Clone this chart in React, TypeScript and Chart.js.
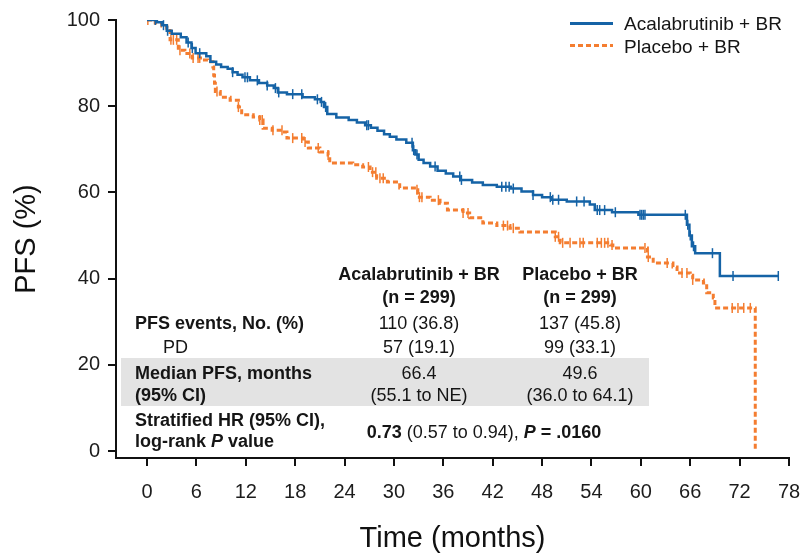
import React, { useEffect, useRef } from 'react';
import { Chart, registerables } from 'chart.js';

Chart.register(...registerables);

// ---------- data ----------
const acalaTimes = [0, 1.2, 1.8, 2.4, 3.0, 4.1, 4.8, 5.4, 5.9, 7.2, 7.7, 8.4, 9.0, 9.8, 10.4, 11.0, 11.6, 12.5, 13.6, 14.6, 15.4, 15.9, 17.0, 18.9, 20.4, 21.1, 21.5, 21.9, 23.0, 24.5, 25.5, 26.5, 27.2, 28.0, 28.8, 29.5, 30.3, 31.5, 32.3, 32.6, 33.0, 33.6, 34.4, 35.3, 36.3, 37.2, 38.1, 39.5, 40.8, 42.5, 44.2, 45.5, 46.9, 48.0, 49.1, 51.0, 53.8, 54.4, 56.5, 59.7, 65.6, 65.9, 66.2, 66.6, 69.6, 76.7];
const acalaSurv = [100, 99.5, 98.8, 97.5, 96.8, 96.0, 94.8, 93.5, 92.3, 91.6, 90.3, 89.7, 89.1, 88.7, 87.9, 87.3, 86.7, 86.0, 85.4, 84.8, 84.2, 83.2, 82.8, 82.1, 81.6, 81.0, 79.8, 78.2, 77.4, 76.8, 76.2, 75.6, 75.0, 74.3, 73.5, 72.9, 72.3, 71.5, 69.8, 68.8, 67.6, 66.8, 66.0, 65.0, 64.4, 63.7, 62.9, 62.3, 61.7, 61.3, 60.9, 60.2, 59.4, 58.9, 58.3, 57.9, 57.2, 55.9, 55.4, 54.8, 52.5, 50.0, 47.5, 45.9, 40.6, 40.6];

const placeboTimes = [0, 1.0, 1.8, 2.4, 2.8, 3.8, 4.6, 5.5, 6.5, 7.4, 8.0, 8.1, 8.2, 8.3, 8.9, 10.1, 11.1, 11.5, 12.9, 13.7, 14.1, 15.2, 16.5, 17.0, 19.0, 19.6, 21.0, 22.0, 22.2, 25.0, 26.2, 27.1, 27.9, 29.2, 30.7, 32.8, 32.9, 34.4, 35.6, 36.5, 38.4, 39.2, 40.8, 42.5, 44.1, 45.3, 49.6, 50.2, 56.3, 56.6, 60.5, 60.8, 61.5, 63.9, 64.4, 66.0, 66.3, 67.6, 68.0, 68.8, 69.0, 73.9];
const placeboSurv = [100, 99.3, 98.6, 98.1, 95.4, 93.0, 92.2, 91.2, 90.7, 90.3, 89.1, 87.2, 85.3, 83.4, 82.1, 81.4, 79.8, 78.0, 77.5, 76.8, 74.9, 74.4, 74.0, 72.6, 71.7, 70.3, 69.4, 68.7, 66.8, 66.4, 65.9, 64.7, 63.3, 62.4, 61.0, 60.6, 58.9, 58.2, 57.5, 55.9, 55.2, 54.1, 52.9, 52.3, 51.7, 50.8, 49.7, 48.3, 47.8, 47.1, 47.1, 45.0, 43.6, 42.7, 41.3, 40.8, 39.7, 39.0, 36.7, 35.5, 33.2, 0];

const acalaCensor = [1.0, 2.0, 2.5, 5.0, 5.5, 6.4, 10.4, 11.9, 12.2, 13.4, 14.6, 15.6, 16.0, 17.7, 18.8, 20.7, 21.2, 21.7, 26.7, 26.9, 32.2, 32.4, 32.8, 35.0, 38.0, 38.2, 43.1, 43.6, 44.0, 44.5, 46.9, 49.0, 49.3, 50.0, 52.2, 53.1, 54.7, 55.0, 55.6, 56.9, 59.9, 60.1, 60.3, 60.5, 65.4, 65.7, 66.0, 66.4, 68.7, 71.2, 76.7];
const placeboCensor = [0.1, 2.9, 3.2, 3.6, 4.0, 5.2, 5.6, 6.2, 6.4, 8.5, 11.1, 13.7, 14.0, 15.3, 16.4, 17.7, 18.8, 19.2, 20.8, 22.0, 26.9, 27.4, 27.8, 28.3, 28.7, 32.8, 33.1, 33.4, 35.4, 38.4, 39.0, 43.3, 43.8, 44.5, 49.6, 50.0, 50.5, 51.4, 52.6, 53.0, 54.7, 55.2, 55.6, 56.0, 56.5, 60.5, 60.9, 63.2, 65.0, 65.6, 66.3, 71.1, 71.8, 72.5, 73.3];

const xTicks = [0, 6, 12, 18, 24, 30, 36, 42, 48, 54, 60, 66, 72, 78];
const yTicks = [0, 20, 40, 60, 80, 100];

const seriesNames = ['Acalabrutinib + BR', 'Placebo + BR'];
const armN = ['(n = 299)', '(n = 299)'];
const pfsEvents = ['110 (36.8)', '137 (45.8)'];
const pdEvents = ['57 (19.1)', '99 (33.1)'];
const medianPfs = ['66.4', '49.6'];
const medianCi = ['(55.1 to NE)', '(36.0 to 64.1)'];
const hrValue = '0.73';
const hrCi = ' (0.57 to 0.94), ';
const pValue = '= .0160';

// ---------- style ----------
const BLUE = '#1563a6';
const ORANGE = '#f47d30';
const AXIS_FONT = '"Liberation Sans", Arial, sans-serif';
const TEXT_FONT = '"Liberation Sans", Arial, sans-serif';

function stepAt(times: number[], surv: number[], t: number) {
  let s = surv[0];
  for (let i = 0; i < times.length; i++) {
    if (times[i] <= t) s = surv[i];
  }
  return s;
}

function Txt(props: { x: number; y: number; center?: boolean; bold?: boolean; size?: number; children: React.ReactNode }) {
  const { x, y, center, bold, size = 18, children } = props;
  return (
    <div
      style={{
        position: 'absolute',
        left: x,
        top: y,
        transform: center ? 'translate(-50%, -50%)' : 'translateY(-50%)',
        whiteSpace: 'nowrap',
        fontFamily: TEXT_FONT,
        fontSize: size,
        fontWeight: bold ? 700 : 400,
        color: '#151515',
        lineHeight: 1,
      }}
    >
      {children}
    </div>
  );
}

export default function App() {
  const canvasRef = useRef<HTMLCanvasElement | null>(null);

  useEffect(() => {
    document.body.style.margin = '0';
    const canvas = canvasRef.current;
    if (!canvas) return;

    const lineA = acalaTimes.map((t, i) => ({ x: t, y: acalaSurv[i] }));
    const lineB = placeboTimes.map((t, i) => ({ x: t, y: placeboSurv[i] }));
    const censA = acalaCensor.map((t) => ({ x: t, y: stepAt(acalaTimes, acalaSurv, t) }));
    const censB = placeboCensor.map((t) => ({ x: t, y: stepAt(placeboTimes, placeboSurv, t) }));

    const chart = new Chart(canvas, {
      type: 'line',
      data: {
        datasets: [
          {
            label: seriesNames[0],
            data: lineA,
            borderColor: BLUE,
            borderWidth: 2.5,
            stepped: 'before',
            pointRadius: 0,
            fill: false,
          },
          {
            label: seriesNames[0] + ' censored',
            data: censA,
            showLine: false,
            pointStyle: 'line',
            rotation: 90,
            pointRadius: 5,
            pointBorderWidth: 1.5,
            pointBorderColor: BLUE,
            borderColor: BLUE,
          },
          {
            label: seriesNames[1],
            data: lineB,
            borderColor: ORANGE,
            borderWidth: 3,
            borderDash: [5, 3],
            stepped: 'before',
            pointRadius: 0,
            fill: false,
          },
          {
            label: seriesNames[1] + ' censored',
            data: censB,
            showLine: false,
            pointStyle: 'line',
            rotation: 90,
            pointRadius: 5,
            pointBorderWidth: 1.5,
            pointBorderColor: ORANGE,
            borderColor: ORANGE,
          },
        ],
      },
      options: {
        animation: false,
        responsive: false,
        layout: { padding: { top: 20, right: 13, left: 0, bottom: 0 } },
        plugins: { legend: { display: false }, tooltip: { enabled: false } },
        scales: {
          x: {
            type: 'linear',
            min: -3.77,
            max: 78,
            afterBuildTicks: (s: any) => {
              s.ticks = xTicks.map((v) => ({ value: v }));
            },
            afterFit: (s: any) => {
              s.height = 95;
              s.paddingLeft = 0;
              s.paddingRight = 0;
            },
            grid: { drawOnChartArea: false, drawTicks: true, tickLength: 8, color: '#111', lineWidth: 2 },
            border: { display: true, color: '#111', width: 2 },
            ticks: {
              font: { family: AXIS_FONT, size: 20 },
              color: '#1c1c1c',
              padding: 14,
              maxRotation: 0,
              autoSkip: false,
            },
            title: {
              display: true,
              text: 'Time (months)',
              font: { family: AXIS_FONT, size: 29, lineHeight: 1 },
              color: '#111',
              padding: 0,
            },
          },
          y: {
            type: 'linear',
            min: -1.62,
            max: 100,
            afterBuildTicks: (s: any) => {
              s.ticks = yTicks.map((v) => ({ value: v }));
            },
            afterFit: (s: any) => {
              s.width = 116;
            },
            grid: { drawOnChartArea: false, drawTicks: true, tickLength: 8, color: '#111', lineWidth: 2 },
            border: { display: true, color: '#111', width: 2 },
            ticks: {
              font: { family: AXIS_FONT, size: 20 },
              color: '#1c1c1c',
              padding: 8,
            },
            title: {
              display: true,
              text: 'PFS (%)',
              font: { family: AXIS_FONT, size: 29, lineHeight: 1.2 },
              color: '#111',
              padding: { top: 10, bottom: 0 },
            },
          },
        },
      },
    } as any);

    return () => chart.destroy();
  }, []);

  const c1 = 419;
  const c2 = 580;

  return (
    <div style={{ position: 'relative', width: 802, height: 553, background: '#fff', overflow: 'hidden' }}>
      <canvas ref={canvasRef} width={802} height={553} style={{ position: 'absolute', left: 0, top: 0 }} />

      {/* legend */}
      <div style={{ position: 'absolute', left: 570, top: 22, width: 43, height: 3, background: BLUE }} />
      <div
        style={{
          position: 'absolute',
          left: 570,
          top: 44,
          width: 43,
          height: 3,
          background: `repeating-linear-gradient(to right, ${ORANGE} 0 5px, transparent 5px 8px)`,
        }}
      />
      <Txt x={624} y={23} size={19}>{seriesNames[0]}</Txt>
      <Txt x={624} y={46} size={19}>{seriesNames[1]}</Txt>

      {/* table */}
      <div style={{ position: 'absolute', left: 121, top: 358, width: 528, height: 48, background: '#e3e3e3' }} />
      <Txt x={c1} y={274} center bold>{seriesNames[0]}</Txt>
      <Txt x={c1} y={297} center bold>{armN[0]}</Txt>
      <Txt x={c2} y={274} center bold>{seriesNames[1]}</Txt>
      <Txt x={c2} y={297} center bold>{armN[1]}</Txt>

      <Txt x={135} y={323} bold>PFS events, No. (%)</Txt>
      <Txt x={c1} y={323} center>{pfsEvents[0]}</Txt>
      <Txt x={c2} y={323} center>{pfsEvents[1]}</Txt>

      <Txt x={163} y={347}>PD</Txt>
      <Txt x={c1} y={347} center>{pdEvents[0]}</Txt>
      <Txt x={c2} y={347} center>{pdEvents[1]}</Txt>

      <Txt x={135} y={373} bold>Median PFS, months</Txt>
      <Txt x={135} y={395} bold>(95% CI)</Txt>
      <Txt x={c1} y={373} center>{medianPfs[0]}</Txt>
      <Txt x={c1} y={395} center>{medianCi[0]}</Txt>
      <Txt x={c2} y={373} center>{medianPfs[1]}</Txt>
      <Txt x={c2} y={395} center>{medianCi[1]}</Txt>

      <Txt x={135} y={420} bold>Stratified HR (95% CI),</Txt>
      <Txt x={135} y={441} bold>
        log-rank <i>P</i> value
      </Txt>
      <Txt x={484} y={432} center>
        <b>{hrValue}</b>
        {hrCi}
        <b>
          <i>P</i> {pValue}
        </b>
      </Txt>
    </div>
  );
}
